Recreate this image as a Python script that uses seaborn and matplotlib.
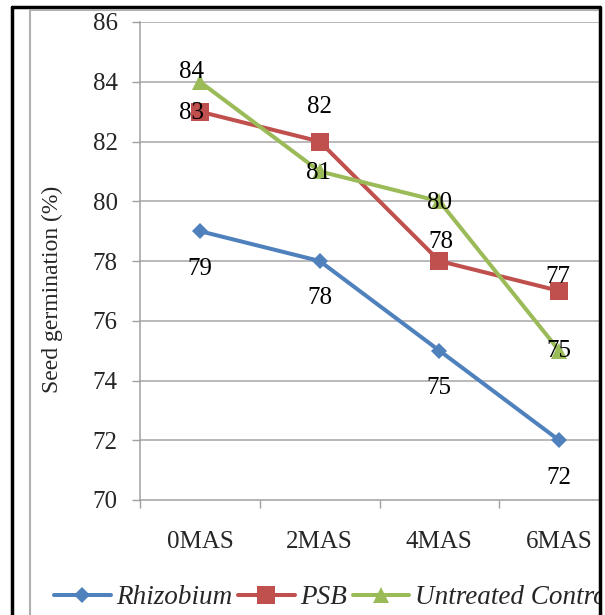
import matplotlib
matplotlib.use("Agg")
import matplotlib.pyplot as plt
import seaborn as sns
import numpy as np
from matplotlib.lines import Line2D
from matplotlib.patches import Rectangle

# 数据
categories = ['0MAS', '2MAS', '4MAS', '6MAS']
series_names = ['Rhizobium', 'PSB', 'Untreated Control']
rhizobium = [79, 78, 75, 72]
psb = [83, 82, 78, 77]
control = [84, 81, 80, 75]
y_ticks = [70, 72, 74, 76, 78, 80, 82, 84, 86]

sns.set_theme(style='white')
plt.rcParams['font.family'] = ['Liberation Serif', 'DejaVu Serif']

colors = ['#4F81BD', '#C0504D', '#9BBB59']
markers = ['D', 's', '^']
msizes = [7.8, 12.5, 11.5]
# label offsets (points) per series / point
label_off = [
    [(0, -27), (0, -27), (0, -27), (0, -27)],
    [(-6, -1), (0, 25), (1, 14), (-1, 10)],
    [(-6, 7), (-1, -1), (0, -1), (0, 0)],
]

fig = plt.figure(figsize=(6.05, 6.15), dpi=100)
ax = fig.add_axes([140 / 605, 1 - 500 / 615, 479 / 605, 478 / 615])

x_pos = np.arange(len(categories))
for i, vals in enumerate([rhizobium, psb, control]):
    sns.lineplot(x=x_pos, y=vals, ax=ax, color=colors[i], marker=markers[i],
                 markersize=msizes[i], markeredgewidth=0, lw=2.9, label=series_names[i],
                 legend=False, zorder=3)
    for j, v in enumerate(vals):
        ax.annotate(str(v), (x_pos[j], v), xytext=label_off[i][j], textcoords='offset points',
                    ha='center', va='center', fontsize=18, color='black', zorder=5)

ax.set_xlim(-0.5, 3.5)
ax.set_ylim(70, 86)
ax.set_yticks(y_ticks)
ax.set_yticklabels([str(t) for t in y_ticks], fontsize=18)
ax.set_xticks(x_pos)
ax.set_xticklabels(categories, fontsize=18)
ax.set_xticks([-0.5, 0.5, 1.5, 2.5], minor=True)
ax.tick_params(axis='x', which='major', length=0, pad=22)
ax.tick_params(axis='x', which='minor', length=6, width=1, color='#A0A0A0', direction='out', bottom=True)
ax.tick_params(axis='y', length=6, width=1, color='#A0A0A0', direction='out', left=True, pad=10)

for yv in y_ticks[1:]:
    ax.axhline(yv, color='#A6A6A6', lw=1.1, zorder=1)
for s in ['top', 'right']:
    ax.spines[s].set_visible(False)
for s in ['left', 'bottom']:
    ax.spines[s].set_color('#A0A0A0')
    ax.spines[s].set_linewidth(1.1)

ax.set_ylabel('Seed germination (%)', fontsize=17)
ax.yaxis.set_label_coords(-0.16, 0.44)

# 图例
handles = [Line2D([0], [0], color=colors[i], marker=markers[i], markersize=msizes[i],
                  markeredgewidth=0, lw=2.9) for i in range(3)]
leg = fig.legend(handles, series_names, loc='center left', bbox_to_anchor=(54 / 605, 1 - 598 / 615),
                 ncol=3, frameon=False, handlelength=2.1, handletextpad=0.2, columnspacing=0.2,
                 borderpad=0, borderaxespad=0,
                 prop={'family': 'Liberation Serif', 'style': 'italic', 'size': 19.5})

# 外框
fig.add_artist(Rectangle((601 / 605, 0), 4 / 605, 1, color='white', transform=fig.transFigure, zorder=9))
fig.add_artist(Line2D([12 / 605, 12 / 605], [0, 1 - 7 / 615], color='black', lw=2.5, transform=fig.transFigure))
fig.add_artist(Line2D([12 / 605, 600 / 605], [1 - 7 / 615, 1 - 7 / 615], color='black', lw=2.5, transform=fig.transFigure))
fig.add_artist(Line2D([600 / 605, 600 / 605], [0, 1 - 7 / 615], color='black', lw=2.5, transform=fig.transFigure, zorder=10))
fig.add_artist(Line2D([30 / 605, 30 / 605], [0, 1 - 10 / 615], color='#B0B0B0', lw=1.5, transform=fig.transFigure))
fig.add_artist(Line2D([30 / 605, 598 / 605], [1 - 10 / 615, 1 - 10 / 615], color='#B0B0B0', lw=1.5, transform=fig.transFigure))

fig.savefig('out.png', dpi=100)
